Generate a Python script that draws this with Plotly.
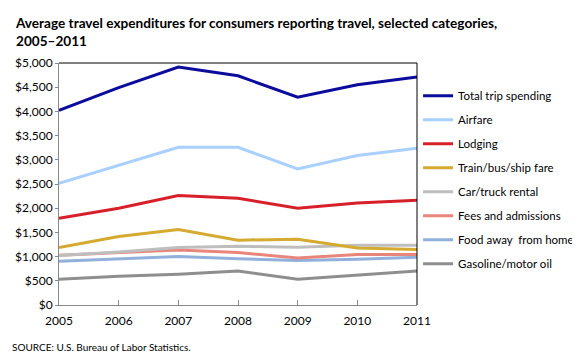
import plotly.graph_objects as go

years = [2005, 2006, 2007, 2008, 2009, 2010, 2011]

total_trip = [4020, 4490, 4915, 4735, 4295, 4550, 4710]
airfare = [2515, 2885, 3260, 3260, 2810, 3090, 3240]
lodging = [1790, 2000, 2260, 2205, 2000, 2105, 2165]
train_bus_ship = [1190, 1415, 1560, 1340, 1360, 1180, 1145]
car_rental = [1025, 1095, 1190, 1215, 1195, 1235, 1235]
fees_admissions = [1030, 1090, 1135, 1085, 970, 1045, 1045]
food_away = [905, 945, 1000, 955, 920, 945, 985]
gasoline = [530, 595, 635, 700, 530, 615, 700]

series_names = ["Total trip spending", "Airfare", "Lodging", "Train/bus/ship fare",
                "Car/truck rental", "Fees and admissions", "Food away  from home",
                "Gasoline/motor oil"]
series_values = [total_trip, airfare, lodging, train_bus_ship, car_rental,
                 fees_admissions, food_away, gasoline]
series_colors = ["#0C0C9C", "#A9D0FF", "#D7202A", "#D4AA30", "#BEBEBE",
                 "#E8867C", "#92B0DC", "#8E8E8E"]

y_tickvals = list(range(0, 5001, 500))
y_ticktext = ["$" + format(v, ",") for v in y_tickvals]

font_family = "Lato, Open Sans, sans-serif"

fig = go.Figure()
for i in reversed(range(len(series_names))):
    fig.add_trace(go.Scatter(
        x=years, y=series_values[i], name=series_names[i], mode="lines",
        line=dict(color=series_colors[i], width=3),
        legendrank=i + 1, legendgroup=str(i),
    ))

# page body has an 8px margin, so the figure is sized/offset to compensate
fig.update_layout(
    width=572, height=352,
    margin=dict(l=51, r=163, t=55, b=55, autoexpand=False),
    paper_bgcolor="white", plot_bgcolor="white",
    font=dict(family=font_family, size=12, color="black"),
    showlegend=True,
    legend=dict(
        x=1.003, y=0.925, xanchor="left", yanchor="top",
        font=dict(size=11.5, family=font_family, color="black"),
        tracegroupgap=5, bgcolor="rgba(0,0,0,0)",
        itemwidth=30,
    ),
    xaxis=dict(
        range=[2005, 2011], tickvals=years, ticktext=[str(y) for y in years],
        showgrid=False, zeroline=False, showline=True, linecolor="#888888", linewidth=1,
        ticks="inside", ticklen=5, tickcolor="#888888", automargin=False,
        ticklabelstandoff=5,
        tickfont=dict(size=12), fixedrange=True,
    ),
    yaxis=dict(
        range=[0, 5000], tickvals=y_tickvals, ticktext=y_ticktext,
        showgrid=False, zeroline=False, showline=True, linecolor="#888888", linewidth=1,
        ticks="outside", ticklen=3, tickcolor="#888888", automargin=False,
        tickfont=dict(size=12),
    ),
    shapes=[
        dict(type="line", xref="paper", yref="paper", x0=0, x1=1, y0=1, y1=1,
             line=dict(color="black", width=1)),
        dict(type="line", xref="paper", yref="paper", x0=1, x1=1, y0=0, y1=1,
             line=dict(color="black", width=1)),
    ],
    annotations=[
        dict(text="<b>Average travel expenditures for consumers reporting travel, selected categories,<br>2005\u20132011</b>",
             xref="paper", yref="paper", x=-0.128, y=1.205, xanchor="left", yanchor="top",
             align="left", showarrow=False,
             font=dict(size=13.6, family=font_family, color="black")),
        dict(text="SOURCE: U.S. Bureau of Labor Statistics.", xref="paper", yref="paper",
             x=-0.137, y=-0.142, xanchor="left", yanchor="top", showarrow=False,
             font=dict(size=10, family=font_family, color="black")),
    ],
)

fig.write_html("out.html")
